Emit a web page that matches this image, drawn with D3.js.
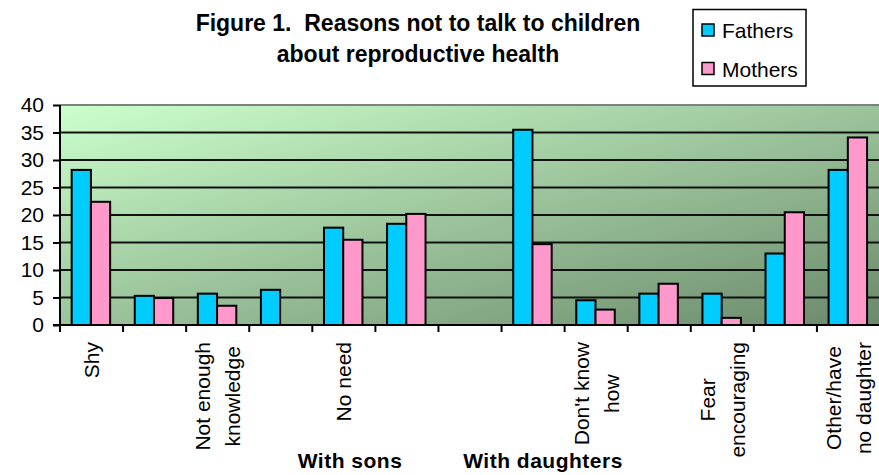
<!DOCTYPE html>
<html>
<head>
<meta charset="utf-8">
<script src="https://cdn.jsdelivr.net/npm/d3@7/dist/d3.min.js"></script>
<style>
  html, body { margin: 0; padding: 0; background: #ffffff; }
  svg { display: block; }
  text { font-family: "Liberation Sans", Arial, sans-serif; fill: #000; }
</style>
</head>
<body>
<svg id="chart" width="879" height="475"></svg>
<script>
// ---- data ----
const categoryLabels = [
  "Shy", "", "Not enough\nknowledge", "", "No need", "", "",
  "", "Don't know\nhow", "", "Fear\nencouraging", "", "Other/have\nno daughter"
];
const seriesNames = ["Fathers", "Mothers"];
const fathers = [28.2, 5.3, 5.7, 6.4, 17.7, 18.4, null, 35.5, 4.5, 5.7, 5.7, 13.0, 28.2];
const mothers = [22.4, 4.9, 3.5, null, 15.5, 20.2, null, 14.7, 2.8, 7.5, 1.3, 20.5, 34.1];
const yTicks = [0, 5, 10, 15, 20, 25, 30, 35, 40];
const titleLines = ["Figure 1.  Reasons not to talk to children", "about reproductive health"];
const groupLabels = ["With sons", "With daughters"];
const seriesColors = ["#00CCFF", "#FF99CC"];

// ---- layout ----
const svg = d3.select("#chart");
const pLeft = 60, pRight = 880, pTop = 105, pBottom = 325;

const x0 = d3.scaleBand().domain(d3.range(categoryLabels.length)).range([pLeft, pRight]).padding(0);
const bw = x0.bandwidth();
const x1 = d3.scaleBand().domain(seriesNames).range([bw * 0.185, bw * 0.795]).padding(0);
const y = d3.scaleLinear().domain([0, 40]).range([pBottom, pTop]);

// background gradient
const defs = svg.append("defs");
const grad = defs.append("linearGradient").attr("id", "bg")
  .attr("x1", 0).attr("y1", 0).attr("x2", 1).attr("y2", 1);
grad.append("stop").attr("offset", "0%").attr("stop-color", "#CCFFCC");
grad.append("stop").attr("offset", "100%").attr("stop-color", "#6B896B");

svg.append("rect")
  .attr("x", pLeft).attr("y", pTop)
  .attr("width", pRight - pLeft).attr("height", pBottom - pTop)
  .attr("fill", "url(#bg)");

// top border (gray)
svg.append("line")
  .attr("x1", pLeft).attr("x2", pRight).attr("y1", y(40)).attr("y2", y(40))
  .attr("stroke", "#808080").attr("stroke-width", 2);

// gridlines
svg.append("g").selectAll("line")
  .data(yTicks.filter(t => t > 0 && t < 40))
  .join("line")
  .attr("x1", pLeft).attr("x2", pRight)
  .attr("y1", d => y(d)).attr("y2", d => y(d))
  .attr("stroke", "#111").attr("stroke-width", 2);

// bars
const rows = categoryLabels.map((c, i) => ({ i, values: [fathers[i], mothers[i]] }));
const gBars = svg.append("g");
rows.forEach(r => {
  r.values.forEach((v, s) => {
    if (v == null) return;
    gBars.append("rect")
      .attr("x", x0(r.i) + x1(seriesNames[s]))
      .attr("y", y(v))
      .attr("width", x1.bandwidth())
      .attr("height", y(0) - y(v))
      .attr("fill", seriesColors[s])
      .attr("stroke", "#000")
      .attr("stroke-width", 2);
  });
});

// y axis
const yAxis = d3.axisLeft(y).tickValues(yTicks).tickSize(7).tickPadding(9).tickFormat(d3.format("d"));
const gy = svg.append("g").attr("transform", `translate(${pLeft},0)`).call(yAxis);
gy.select(".domain").attr("stroke", "#000").attr("stroke-width", 2).attr("d", `M0,${y(40)}V${y(0)}`);
gy.selectAll(".tick line").attr("stroke", "#000").attr("stroke-width", 2);
gy.selectAll(".tick text").attr("font-size", 21).attr("font-family", "Liberation Sans, Arial, sans-serif").attr("fill", "#000");

// x axis line and ticks at category boundaries
const boundaries = d3.range(categoryLabels.length + 1).map(i => pLeft + i * bw);
svg.append("line")
  .attr("x1", pLeft - 7).attr("x2", pRight).attr("y1", y(0)).attr("y2", y(0))
  .attr("stroke", "#000").attr("stroke-width", 2);
svg.append("g").selectAll("line")
  .data(boundaries.slice(0, categoryLabels.length))
  .join("line")
  .attr("x1", d => d).attr("x2", d => d)
  .attr("y1", y(0)).attr("y2", y(0) + 7)
  .attr("stroke", "#000").attr("stroke-width", 2);

// x labels (rotated, top-aligned block, lines centered)
const labelTop = 342, lineGap = 30;
categoryLabels.forEach((lab, i) => {
  if (!lab) return;
  const lines = lab.split("\n");
  const cx = x0(i) + bw / 2;
  const texts = lines.map((ln, k) => {
    const colX = cx + (k - (lines.length - 1) / 2) * lineGap;
    return svg.append("text")
      .attr("font-size", 21)
      .attr("text-anchor", "middle")
      .attr("dy", "0.35em")
      .attr("data-x", colX)
      .text(ln);
  });
  const maxLen = d3.max(texts, t => t.node().getComputedTextLength());
  texts.forEach(t => {
    t.attr("transform", `translate(${+t.attr("data-x")},${labelTop + maxLen / 2}) rotate(-90)`);
  });
});

// group labels
svg.append("text").attr("x", 350).attr("y", 468).attr("text-anchor", "middle")
  .attr("font-size", 21).attr("font-weight", "bold").attr("letter-spacing", 0.5).text(groupLabels[0]);
svg.append("text").attr("x", 543).attr("y", 468).attr("text-anchor", "middle")
  .attr("font-size", 21).attr("font-weight", "bold").attr("letter-spacing", 0.5).text(groupLabels[1]);

// title
titleLines.forEach((t, k) => {
  svg.append("text").attr("x", 418).attr("y", 31 + k * 31).attr("text-anchor", "middle")
    .attr("font-size", 23).attr("font-weight", "bold")
    .style("white-space", "pre").attr("xml:space", "preserve")
    .text(t);
});

// legend
const lg = svg.append("g");
lg.append("rect").attr("x", 693).attr("y", 9.5).attr("width", 113).attr("height", 76.5)
  .attr("fill", "#fff").attr("stroke", "#000").attr("stroke-width", 1.5);
seriesNames.forEach((s, k) => {
  const yy = 24 + k * 38.5;
  lg.append("rect").attr("x", 702).attr("y", yy).attr("width", 12).attr("height", 12)
    .attr("fill", seriesColors[k]).attr("stroke", "#000").attr("stroke-width", 1.5);
  lg.append("text").attr("x", 722).attr("y", yy + 14).attr("font-size", 21).text(s);
});
</script>
</body>
</html>
